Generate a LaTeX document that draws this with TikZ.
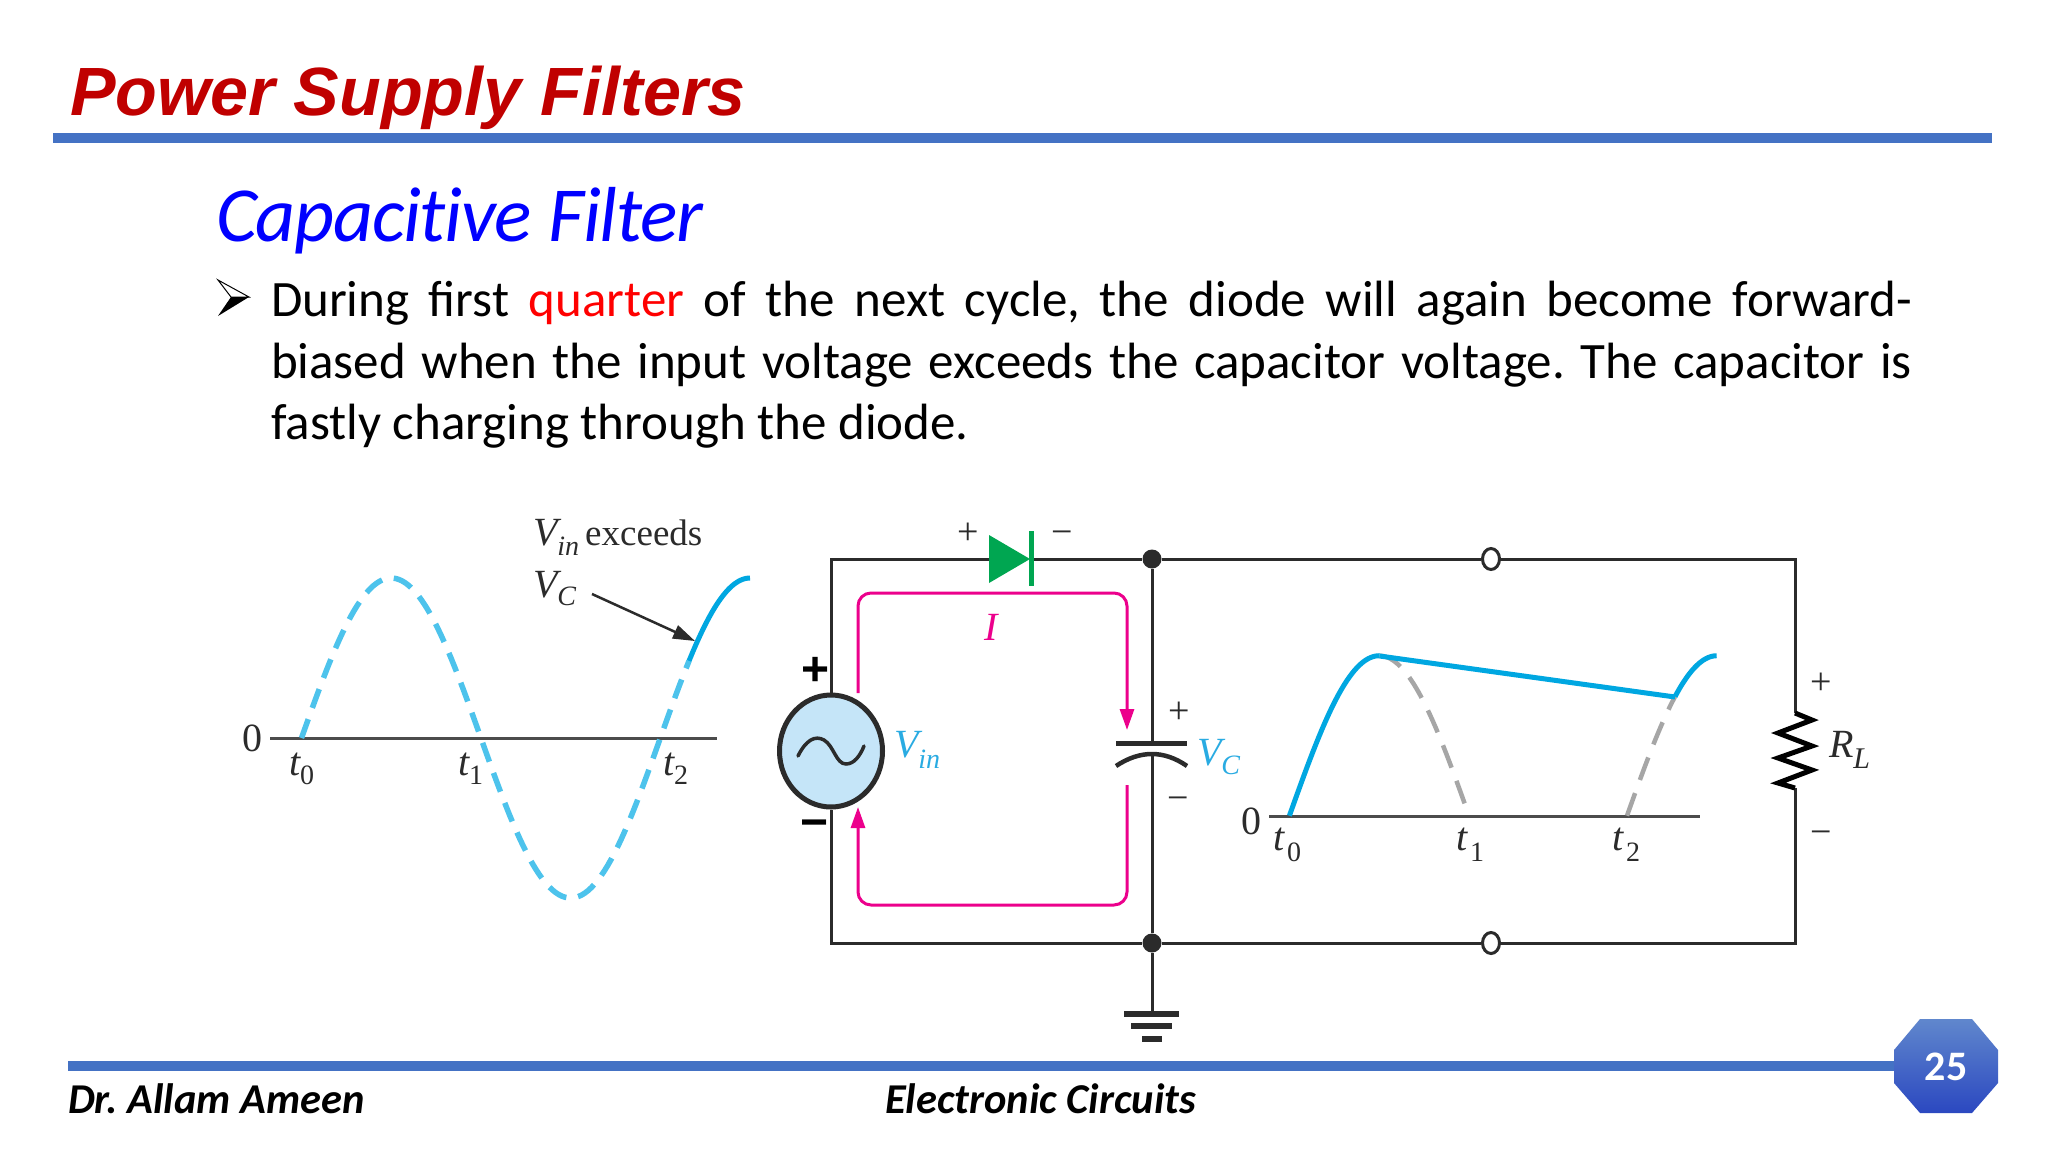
\documentclass[tikz,border=0pt]{standalone}
\usepackage{fontspec}
\usetikzlibrary{arrows.meta,shapes.geometric}
\setmainfont{Carlito}
\newfontfamily\arialf{Liberation Sans}
\newfontfamily\timesf{Liberation Serif}
\newfontfamily\subhf[LetterSpace=-1.6,Ligatures=NoCommon,ItalicFont={Carlito Italic}]{Carlito}
\newcommand{\szf}[1]{\fontsize{#1}{#1}\selectfont}
\newcommand{\subtxt}[4]{{\timesf\szf{40}\itshape #1\raisebox{#4}{\szf{#3}#2}}}
\frenchspacing
\definecolor{rulec}{HTML}{4472C4}
\definecolor{titlec}{HTML}{C00000}
\definecolor{wirec}{HTML}{2B2B2B}
\definecolor{pinkc}{HTML}{EC008C}
\definecolor{bluec}{HTML}{00A7E1}
\definecolor{dashc}{HTML}{4DC3EC}
\definecolor{greyc}{HTML}{A6A6A6}
\definecolor{labelc}{HTML}{29ABE2}
\definecolor{greenc}{HTML}{00A651}
\definecolor{srcc}{HTML}{C5E5F8}
\tikzset{
  x=1pt,y=-1pt,
  txt/.style={inner sep=0pt,outer sep=0pt,anchor=base west},
  ctr/.style={inner sep=0pt,outer sep=0pt,anchor=center},
  body/.style={txt,font=\frenchspacing\szf{51}},
  foot/.style={txt,font=\frenchspacing\szf{42.5}\bfseries\itshape},
  ser/.style={txt,font=\timesf\szf{40},text=wirec},
  sym/.style={ctr,font=\timesf\szf{38},text=wirec},
  rulebar/.style={fill=rulec,draw=none},
  wire/.style={line width=3pt,draw=wirec,line join=miter},
  axisline/.style={line width=3pt,draw=black!70},
  dot/.style={circle,fill=wirec,draw=none,minimum size=19pt,inner sep=0pt},
  opencirc/.style={ellipse,fill=white,draw=wirec,line width=3pt,minimum width=17pt,minimum height=21pt,inner sep=0pt},
  loop/.style={line width=3pt,draw=pinkc,rounded corners=13pt},
  looptip/.style={-{Triangle[length=21pt,width=14pt]}},
  bluesolid/.style={line width=5pt,draw=bluec},
  bluedash/.style={line width=5.5pt,draw=dashc,dash pattern=on 20pt off 12pt},
  greydash/.style={line width=4.5pt,draw=greyc,dash pattern=on 24pt off 14pt},
}
\begin{document}
\begin{tikzpicture}
\useasboundingbox (0,0) rectangle (2048,1152);
\fill[white] (0,0) rectangle (2048,1152);

% header
\node[txt,font=\arialf\bfseries\itshape\szf{68.3},text=titlec] (title) at (70,115) {Power Supply Filters};
\fill[rulebar] (53,133) rectangle (1992,143);
\node[txt,font=\subhf\itshape\szf{78},text=blue] (sub) at (216,241) {Capacitive Filter};

% bullet
\filldraw[fill=white,draw=black,line width=1pt] (218,280) -- (249,297) -- (231,297) -- cycle;
\fill[black] (218,316) -- (249,297) -- (231,297) -- cycle;

% body
\node[body] (l1) at (271,316) {\makebox[1641pt][s]{During first \textcolor{red}{quarter} of the next cycle, the diode will again become forward-}};
\node[body] (l2) at (271,378) {\makebox[1641pt][s]{biased when the input voltage exceeds the capacitor voltage. The capacitor is}};
\node[body] (l3) at (271,439) {fastly charging through the diode.};

% left graph
\coordinate (ax1a) at (270,738);
\coordinate (ax1b) at (717,738);
\draw[axisline] (ax1a) -- (ax1b);
\draw[bluedash] plot[domain=301.5:689,samples=120] (\x,{738-160*sin((\x-301.5)*1.0033)});
\draw[bluesolid] plot[domain=689:750,samples=30] (\x,{738-160*sin((\x-301.5)*1.0033)});
\node[ser] (zero1) at (242,751) {0};
\node[ser] (t10) at (289,775) {\subtxt{t}{\textup{0}}{28}{-9pt}};
\node[ser] (t11) at (458,775) {\subtxt{t}{\textup{1}}{28}{-9pt}};
\node[ser] (t12) at (663,775) {\subtxt{t}{\textup{2}}{28}{-9pt}};
\node[ser] (exc) at (533,545) {\subtxt{V}{in}{28}{-10pt}\kern6pt{\szf{37}exceeds}};
\node[ser] (vc1) at (533,597) {\subtxt{V}{C}{28}{-8pt}};
\coordinate (arra) at (592,594);
\coordinate (arrb) at (695,641);
\draw[line width=2.5pt,draw=wirec,-{Triangle[length=22pt,width=14pt]}] (arra) -- (arrb);

% circuit
\node[ellipse,draw=wirec,line width=5pt,fill=srcc,minimum width=103pt,minimum height=112pt,inner sep=0pt] (src) at (831,751) {};
\draw[line width=3.5pt,draw=wirec,line cap=round] (798,756) .. controls (806,740) and (815,735) .. (824,740) .. controls (834,746) and (836,764) .. (846,764) .. controls (854,764) and (860,756) .. (864,746);
\node[ctr,font=\arialf\bfseries\szf{48},text=black] (bigp) at (816,671) {+};
\node[ctr,font=\arialf\bfseries\szf{48},text=black] (bigm) at (815,829) {\textminus};
\node[dot] (jt) at (1152,559) {};
\node[dot] (jb) at (1152,943) {};
\node[opencirc] (ot) at (1491,559) {};
\node[opencirc] (ob) at (1491,943) {};
\coordinate (ctl) at (831,559);
\coordinate (cbl) at (831,943);
\coordinate (ctr) at (1795,559);
\coordinate (cbr) at (1795,943);
\coordinate (da) at (989,559);
\coordinate (dk) at (1031,559);
\coordinate (rt) at (1795,713);
\coordinate (rb) at (1795,788);
\coordinate (captop) at (1152,743);
\coordinate (capbot) at (1152,752);
\coordinate (gnd) at (1152,1013);
\draw[wire] (src.north) -- (ctl) -- (da);
\draw[wire] (src.south) -- (cbl) -- (jb);
\draw[wire] (dk) -- (jt);
\draw[wire] (jt) -- (ot);
\draw[wire] (ot) -- (ctr) -- (rt);
\draw[wire] (rb) -- (cbr) -- (ob);
\draw[wire] (ob) -- (jb);
\draw[wire] (jt) -- (captop);
\draw[wire] (capbot) -- (jb);
\draw[wire] (jb) -- (gnd);
% diode
\fill[greenc] (989,535) -- (1030,559) -- (989,583) -- cycle;
\fill[greenc] (1028.5,531) rectangle (1033.5,586);
\node[sym] (dp) at (968,534) {+};
\node[sym] (dm) at (1062,538) {\textminus};
% capacitor
\draw[line width=5pt,draw=wirec] (1116,743) -- (1187,743);
\draw[line width=4.5pt,draw=wirec] (1116,766) .. controls (1140,750) and (1164,750) .. (1187,766);
\node[sym] (cp) at (1179,713) {+};
\node[sym] (cm) at (1178,804) {\textminus};
% ground
\fill[wirec] (1124,1010.5) rectangle (1179,1016.5);
\fill[wirec] (1131,1023) rectangle (1172,1029);
\fill[wirec] (1142,1036) rectangle (1162,1042);
% current loop
\draw[loop,looptip] (858,693) -- (858,593) -- (1127,593) -- (1127,730);
\draw[loop,looptip] (1127,785) -- (1127,905) -- (858,905) -- (858,807);
\node[txt,anchor=base,font=\timesf\itshape\szf{40},text=pinkc] (curr) at (991,640) {I};
\node[txt] (vin) at (894,757) {{\color{labelc}\subtxt{V}{in}{28}{-11pt}}};
\node[txt] (vcc) at (1197,765) {{\color{labelc}\subtxt{V}{C}{28}{-9pt}}};
% resistor
\draw[line width=5pt,draw=black,line join=miter] (rt) -- (1812,720) -- (1778,733) -- (1812,746) -- (1778,758) -- (1812,770) -- (1778,783) -- (rb);
\node[sym] (rp) at (1821,684) {+};
\node[sym] (rm) at (1821,838) {\textminus};
\node[ser] (rl) at (1829,757) {\subtxt{R}{L}{30}{-11pt}};

% right graph
\coordinate (ax2a) at (1269,816);
\coordinate (ax2b) at (1700,816);
\draw[axisline] (ax2a) -- (ax2b);
\draw[greydash] plot[domain=1379.6:1469,samples=40] (\x,{815.7-160*sin((\x-1289.4)*1.0022)});
\draw[greydash] plot[domain=1627:1675,samples=30] (\x,{815.7-160*sin((\x-1627)*1.0022)});
\coordinate (pk) at (1379.6,656);
\coordinate (kn) at (1675,697);
\draw[bluesolid] plot[domain=1289.4:1379.6,samples=40] (\x,{815.7-160*sin((\x-1289.4)*1.0022)});
\draw[bluesolid] (pk) -- (kn);
\draw[bluesolid] plot[domain=1675:1716.6,samples=20] (\x,{815.7-160*sin((\x-1627)*1.0022)});
\node[ser] (zero2) at (1241,834) {0};
\node[ser] (t20) at (1273,850) {\subtxt{t\kern3pt}{\textup{0}}{28}{-11pt}};
\node[ser] (t21) at (1456,850) {\subtxt{t\kern3pt}{\textup{1}}{28}{-11pt}};
\node[ser] (t22) at (1612,850) {\subtxt{t\kern3pt}{\textup{2}}{28}{-11pt}};

% footer
\fill[rulebar] (68,1061) rectangle (1900,1071);
\node[foot] (au) at (68,1113) {Dr. Allam Ameen};
\node[foot] (co) at (885,1113) {Electronic Circuits};
\shade[top color=rulec!85!white,bottom color=rulec!70!blue!90!black] (1920,1019) -- (1972,1019) -- (1998,1050) -- (1998,1083) -- (1972,1113) -- (1920,1113) -- (1894,1083) -- (1894,1050) -- cycle;
\node[ctr,font=\bfseries\szf{42},text=white] (pg) at (1946,1067) {25};
\end{tikzpicture}
\end{document}
